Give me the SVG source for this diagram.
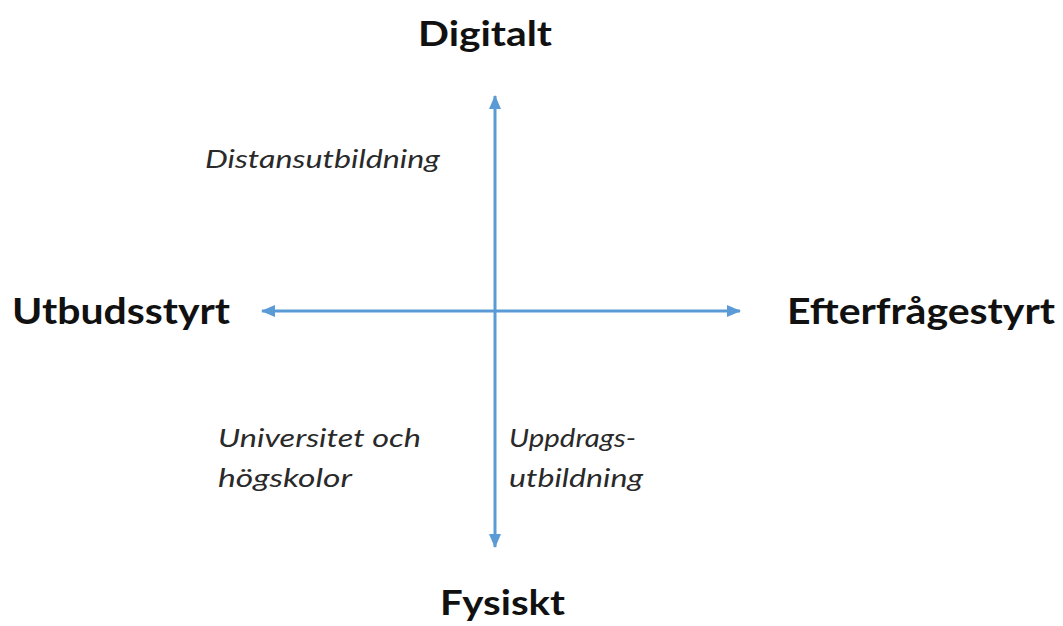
<svg xmlns="http://www.w3.org/2000/svg" width="1063" height="626" viewBox="0 0 1063 626">
<style>
.axis{stroke:#5b9bd5;stroke-width:3;fill:none}
.pole{font-family:Lato,"Open Sans",sans-serif;font-weight:bold;font-size:35px;fill:#111}
.side{font-size:37px}
.q{font-family:Lato,"Open Sans",sans-serif;font-style:italic;font-size:25px;fill:#2a2a2a}
</style>
<defs>
<marker id="ah" markerUnits="userSpaceOnUse" markerWidth="14" markerHeight="12" refX="13" refY="6" orient="auto-start-reverse" viewBox="0 0 14 12">
<path d="M0,0 L14,6 L0,12 Z" fill="#5b9bd5"/>
</marker>
</defs>
<rect width="1063" height="626" fill="#fff"/>
<g id="connectors">
<line class="axis" x1="495" y1="96" x2="495" y2="547" marker-start="url(#ah)" marker-end="url(#ah)"/>
<line class="axis" x1="262" y1="311" x2="740" y2="311" marker-start="url(#ah)" marker-end="url(#ah)"/>
</g>
<g id="digitalt"><text class="pole" x="418" y="46" textLength="134" lengthAdjust="spacingAndGlyphs">Digitalt</text></g>
<g id="fysiskt"><text class="pole" x="440" y="615" textLength="125" lengthAdjust="spacingAndGlyphs">Fysiskt</text></g>
<g id="utbudsstyrt"><text class="pole side" x="12" y="324" textLength="218" lengthAdjust="spacingAndGlyphs">Utbudsstyrt</text></g>
<g id="efterfragestyrt"><text class="pole side" x="787" y="324" textLength="268" lengthAdjust="spacingAndGlyphs">Efterfrågestyrt</text></g>
<g id="distansutbildning"><text class="q" x="205" y="168" textLength="235" lengthAdjust="spacingAndGlyphs">Distansutbildning</text></g>
<g id="universitet">
<text class="q" x="218" y="447" textLength="203" lengthAdjust="spacingAndGlyphs">Universitet och</text>
<text class="q" x="218" y="487" textLength="134" lengthAdjust="spacingAndGlyphs">högskolor</text>
</g>
<g id="uppdrag">
<text class="q" x="509" y="447" textLength="127" lengthAdjust="spacingAndGlyphs">Uppdrags-</text>
<text class="q" x="509" y="487" textLength="134" lengthAdjust="spacingAndGlyphs">utbildning</text>
</g>
</svg>
